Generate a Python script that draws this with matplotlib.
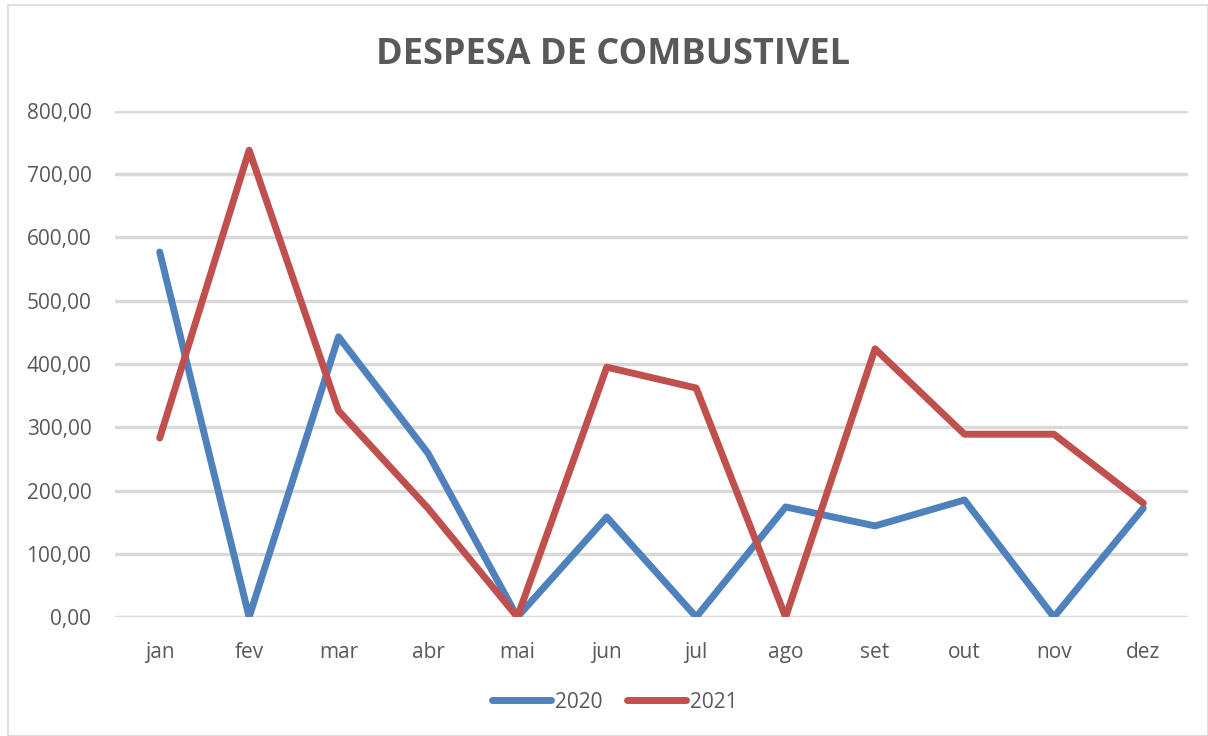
import matplotlib
matplotlib.use('Agg')
import matplotlib.pyplot as plt
from matplotlib.patches import Rectangle

meses = ['jan', 'fev', 'mar', 'abr', 'mai', 'jun', 'jul', 'ago', 'set', 'out', 'nov', 'dez']
despesa_2020 = [577, 0, 443, 259, 0, 158, 0, 174, 144, 185, 0, 172]
despesa_2021 = [283, 738, 326, 172, 0, 395, 362, 0, 424, 289, 289, 180]
y_ticks = [0, 100, 200, 300, 400, 500, 600, 700, 800]

plt.rcParams['font.family'] = ['Open Sans', 'DejaVu Sans']
cinza = '#595959'

fig = plt.figure(figsize=(12.08, 7.36), dpi=100)
fig.patches.append(Rectangle((8 / 1208, 0), 1 - 8 / 1208, 1 - 5 / 736, transform=fig.transFigure,
                             fill=False, edgecolor='#d9d9d9', linewidth=1.2))
ax = fig.add_axes([115 / 1208, 1 - 617 / 736, 1073 / 1208, 506 / 736])

x = range(len(meses))
ax.plot(x, despesa_2020, color='#4f81bd', linewidth=5, solid_capstyle='round',
        solid_joinstyle='round', label='2020')
ax.plot(x, despesa_2021, color='#c0504d', linewidth=5, solid_capstyle='round',
        solid_joinstyle='round', label='2021')

ax.set_xlim(-0.5, 11.5)
ax.set_ylim(0, 800)
ax.set_yticks(y_ticks)
ax.set_yticklabels([f'{v},00' for v in y_ticks])
ax.set_xticks(list(x))
ax.set_xticklabels(meses)
ax.tick_params(length=0, labelsize=15, colors=cinza)
ax.tick_params(axis='x', pad=18)
ax.tick_params(axis='y', pad=17)
ax.grid(axis='y', color='#d9d9d9', linewidth=2.5)
ax.set_axisbelow(True)
for s in ax.spines.values():
    s.set_visible(False)

fig.text(613 / 1208, 1 - 55 / 736, 'DESPESA DE COMBUSTIVEL', ha='center', va='center',
         fontsize=26, fontweight='bold', color=cinza)
fig.legend(loc='center', bbox_to_anchor=(615 / 1208, 1 - 702 / 736), ncol=2, frameon=False,
           fontsize=15, labelcolor=cinza, handlelength=2.8, handletextpad=0.2, columnspacing=1.2)

fig.savefig('out.png', dpi=100)
